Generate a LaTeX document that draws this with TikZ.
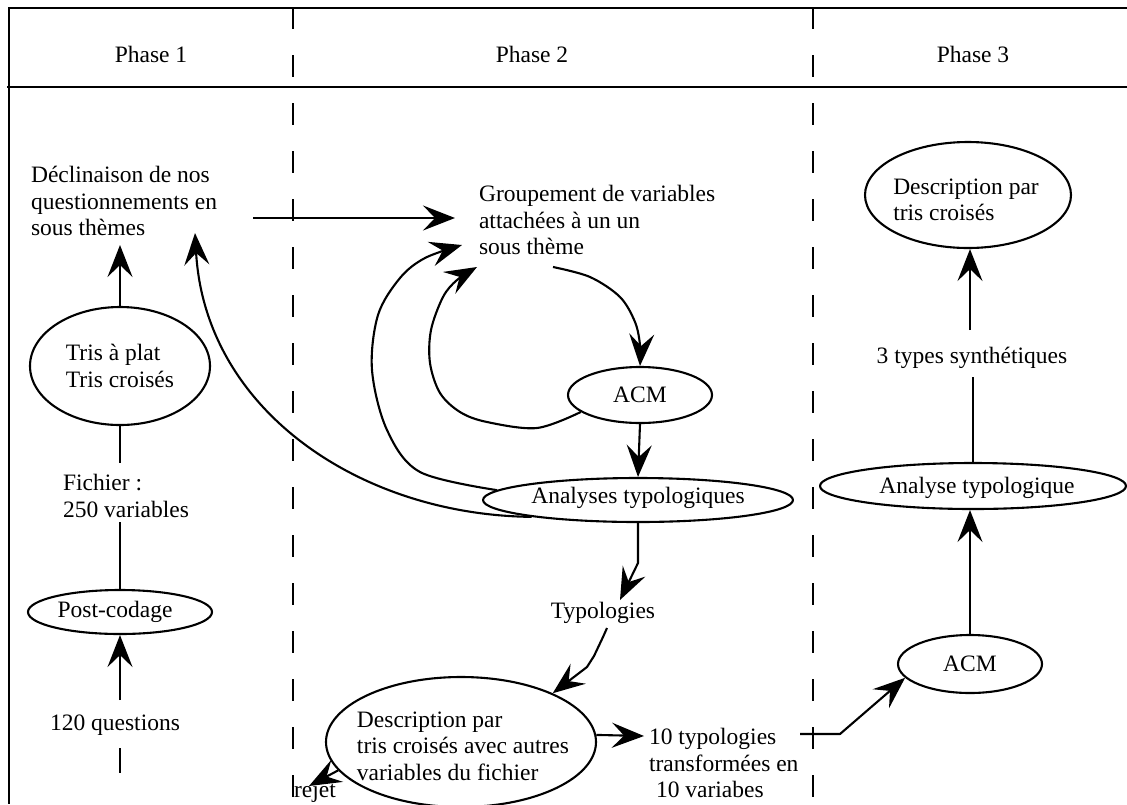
\documentclass[tikz,border=0pt]{standalone}
\usepackage{fontspec}
\setmainfont{Liberation Serif}
\usetikzlibrary{arrows.meta,shapes.geometric}
\begin{document}
\begin{tikzpicture}[x=1pt,y=-1pt, line width=2.1pt, line join=round,
  every node/.style={font=\fontsize{23.5}{26.5}\selectfont, inner sep=0pt},
  ell/.style={ellipse, draw, line width=2.1pt, inner sep=0pt},
  arr/.style={-{Stealth[length=32pt,width=25pt,inset=12pt]}},
  lab/.style={align=left},
  dsh/.style={dash pattern=on 22pt off 26pt}]
\useasboundingbox (0,0) rectangle (1127,804);

% frame and columns
\draw (8,8) -- (1127,8);
\draw (7,87) -- (1127,87);
\draw (9,8) -- (9,804);
\draw[dsh] (293,7) -- (293,804);
\draw[dsh] (813,7) -- (813,804);

% headers
\node (p1) at (151,54) {Phase 1};
\node (p2) at (532,54) {Phase 2};
\node (p3) at (973,54) {Phase 3};

% Phase 1
\node[lab, anchor=west] (decl) at (30,201) {Déclinaison de nos\\questionnements en\\sous thèmes};
\node[ell, minimum width=180, minimum height=118] (tris) at (120,366) {};
\node[lab] at (tris) {Tris à plat\\Tris croisés};
\node[lab, anchor=west] (fich) at (62,496) {Fichier :\\250 variables};
\node[ell, minimum width=184, minimum height=44] (post) at (120,612) {};
\node at ([xshift=-5pt]post.center) {Post-codage};
\node (q120) at (115,725) {120 questions};

% Phase 2
\node[lab, anchor=west] (grp) at (478,220) {Groupement de variables\\attachées à un un\\sous thème};
\node[ell, minimum width=144, minimum height=56] (acm1) at (640,395) {};
\node at (acm1) {ACM};
\node[ell, minimum width=310, minimum height=44] (ana) at (638,500) {};
\node at ([yshift=2pt]ana.center) {Analyses typologiques};
\node (typo) at (603,613) {Typologies};
\node[ell, minimum width=270, minimum height=130] (desc) at (461,742) {};
\node[lab] at (463,746) {Description par\\tris croisés avec autres\\variables du fichier};
\node[lab, anchor=west] (ten) at (648,763) {10 typologies\\transformées en\\\hspace*{7pt}10 variabes};
\node (rej) at (315,792) {rejet};

% Phase 3
\node[ell, minimum width=206, minimum height=106] (descr) at (968,195) {};
\node[lab] at (966,200) {Description par\\tris croisés};
\node (t3) at (972,358) {3 types synthétiques};
\node[ell, minimum width=306, minimum height=46] (anar) at (973,486) {};
\node at (977,488) {Analyse typologique};
\node[ell, minimum width=144, minimum height=58] (acm2) at (970,664) {};
\node at (acm2) {ACM};

% named free ends
\coordinate (dtip) at (120,245);
\coordinate (f1) at (120,463);
\coordinate (f2) at (120,522);
\coordinate (qtop) at (120,700);
\coordinate (qd1) at (120,748);
\coordinate (qd2) at (120,773);
\coordinate (d1) at (253,218);
\coordinate (g1) at (455,218);
\coordinate (dl) at (195,233);
\coordinate (g2) at (462,245);
\coordinate (g3) at (477,267);
\coordinate (g4) at (553,267);
\coordinate (a1) at (638,563);
\coordinate (ty1) at (620,600);
\coordinate (ty2) at (607,628);
\coordinate (t1) at (644,736);
\coordinate (t2) at (800,734);
\coordinate (t3c) at (840,734);
\coordinate (s1) at (970,377);
\coordinate (s2) at (970,330);
\coordinate (rj) at (309,786);

% Phase 1 connectors
\draw[arr] (tris.north) -- (dtip);
\draw (tris.south) -- (f1);
\draw (f2) -- (post.north);
\draw[arr] (qtop) -- (post.south);
\draw (qd1) -- (qd2);

% Phase 2 connectors
\draw[arr] (d1) -- (g1);
\draw[arr] (ana.189) .. controls (360,515) and (205,410) .. (dl);
\draw[arr] plot[smooth, tension=0.55] coordinates {(ana.176) (420,472) (387,430) (372,370) (378,315) (400,278) (425,258) (g2)};
\draw[arr] plot[smooth, tension=0.55] coordinates {(acm1.196) (537,428) (487,422) (460,412) (440,393) (430,363) (431,330) (443,297) (457,280) (g3)};
\draw[arr] plot[smooth, tension=0.55] coordinates {(g4) (590,277) (620,297) (635,322) (640,345) (acm1.north)};
\draw[arr] (acm1.south) -- (ana.north);
\draw[arr] (ana.south) -- (a1) -- (ty1);
\draw[arr] (ty2) -- (603,637) -- (594,656) -- (587,667) -- (desc.28);
\draw[arr] (desc.3) -- (t1);
\draw[arr] (desc.193) -- (rj);

% Phase 3 connectors
\draw[arr] (t2) -- (t3c) -- (acm2.192);
\draw[arr] (acm2.north) -- (acm2.north |- anar.south);
\draw (anar.north) -- (anar.north |- s1);
\draw[arr] (s2) -- (s2 |- descr.south);
\end{tikzpicture}
\end{document}
